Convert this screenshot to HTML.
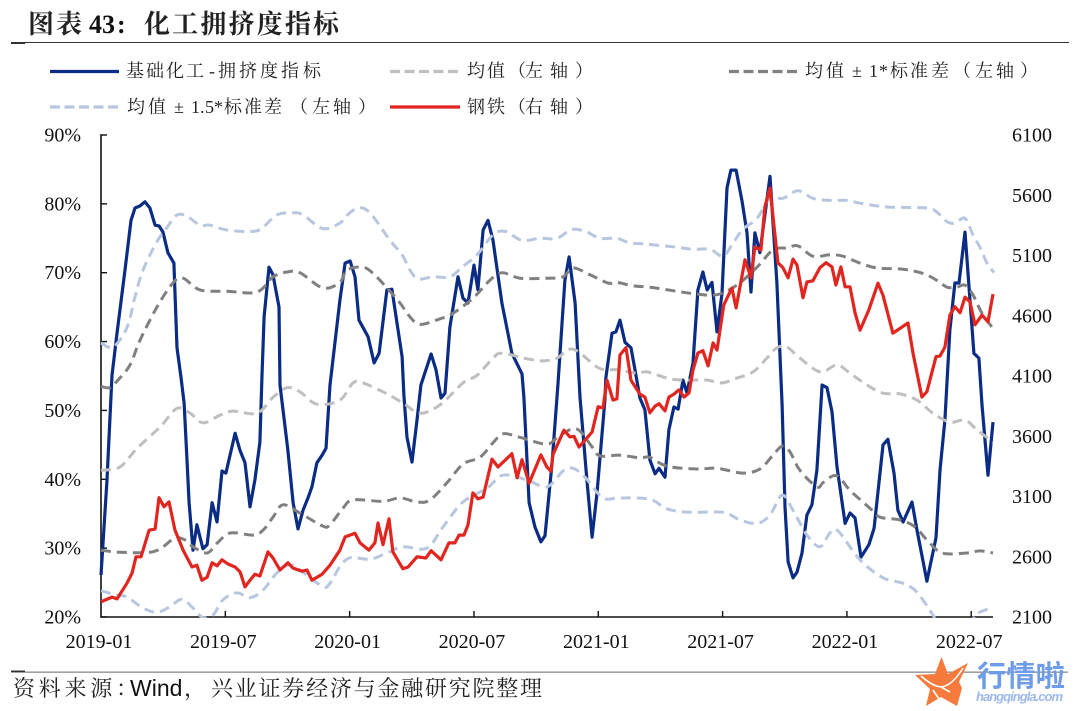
<!DOCTYPE html>
<html lang="zh">
<head>
<meta charset="utf-8">
<title>化工拥挤度指标</title>
<style>
html,body{margin:0;padding:0;background:#fff}
#stage{display:block;width:1080px;height:711px}
.cn{font-family:"Liberation Serif","Noto Serif CJK SC",serif;fill:#222}
.tick{font-family:"Liberation Serif",serif;font-size:20px;fill:#111}
</style>
</head>
<body>
<svg id="stage" xmlns="http://www.w3.org/2000/svg" width="1080" height="711" viewBox="0 0 1080 711">
  <defs><clipPath id="plot-clip"><rect x="96" y="120" width="902" height="498"/></clipPath></defs>

  <g>
    <text class="cn" x="28" y="33" font-size="26" font-weight="700" fill="#111" textLength="54" lengthAdjust="spacing">图表</text>
    <text x="89" y="33" font-family="Liberation Serif,serif" font-size="26" font-weight="700" fill="#111">43</text>
    <text x="117" y="33" font-family="Liberation Serif,serif" font-size="26" font-weight="700" fill="#111">:</text>
    <text class="cn" x="144" y="33" font-size="26" font-weight="700" fill="#111" textLength="195" lengthAdjust="spacing">化工拥挤度指标</text>
  </g>
  <rect x="11" y="42" width="1058" height="1" fill="#333"/>
  <rect x="11" y="42" width="14" height="2" fill="#333"/>

  <g>
    <g>
      <line x1="50" y1="71.5" x2="119" y2="71.5" stroke="#0b2c84" stroke-width="3.2"/>
      <text class="cn" x="126 146 166 186 209 218 239 260 281 303" y="77" font-size="18">基础化工-拥挤度指标</text>
    </g>
    <g>
      <line x1="390" y1="71.5" x2="460" y2="71.5" stroke="#bfbfbf" stroke-width="3.2" stroke-dasharray="10 4.5"/>
      <text class="cn" x="467 487 508 525 550 575" y="77" font-size="18">均值&#xFF08;左轴&#xFF09;</text>
    </g>
    <g>
      <line x1="729" y1="71.5" x2="799" y2="71.5" stroke="#808080" stroke-width="3.2" stroke-dasharray="10 4.5"/>
      <text class="cn" x="805 826 846 852 862 869 879 890 910 931 953 975 996 1020" y="77" font-size="18">均值 ± 1*标准差&#xFF08;左轴&#xFF09;</text>
    </g>
    <g>
      <line x1="50" y1="107" x2="119" y2="107" stroke="#b8c7e0" stroke-width="3.2" stroke-dasharray="10 4.5"/>
      <text class="cn" x="127 148 168 174 184 191 200 205 214 224 244 264 290 312 333 358" y="113" font-size="18">均值 ± 1.5*标准差&#xFF08;左轴&#xFF09;</text>
    </g>
    <g>
      <line x1="390" y1="107" x2="460" y2="107" stroke="#e1251f" stroke-width="3.2"/>
      <text class="cn" x="467 487 508 525 550 575" y="113" font-size="18">钢铁&#xFF08;右轴&#xFF09;</text>
    </g>
  </g>

  <g id="axes"></g>
  <g id="series" clip-path="url(#plot-clip)"></g>

  <rect x="11" y="671.5" width="1057" height="1.3" fill="#8a8a8a"/>
  <rect x="11" y="670.5" width="14" height="1.5" fill="#333"/>
  <g>
    <text class="cn" x="13" y="696" font-size="22" textLength="125" lengthAdjust="spacing">资料来源&#xFF1A;</text>
    <text x="130" y="696" font-family="Liberation Sans,sans-serif" font-size="23" fill="#111">Wind</text>
    <text class="cn" x="184" y="696" font-size="22">&#xFF0C;</text>
    <text class="cn" x="211" y="696" font-size="22" textLength="331" lengthAdjust="spacing">兴业证券经济与金融研究院整理</text>
  </g>

  <g>
    <polygon points="941.5,657 948,674 968,663 959,682 962,688 957,706 941,697 926,706 930,689 915,675 935,674" fill="#f57a3c"/>
    <path d="M921 676 Q932 686 941 687 Q952 686 963 668 M933 690 L941 702 M941 687 L950 692" fill="none" stroke="#fff" stroke-width="1.6"/>
    <text x="977" y="686" font-family="Liberation Sans,'Noto Sans CJK SC',sans-serif" font-size="29" font-weight="700" fill="#6f9ce8" textLength="88" lengthAdjust="spacingAndGlyphs">行情啦</text>
    <text x="976" y="701" font-family="Liberation Sans,sans-serif" font-size="13" font-weight="700" font-style="italic" fill="#9db9ea" textLength="87" lengthAdjust="spacing">hangqingla.com</text>
  </g>
</svg>

<script>
const xTickMonths = [0, 6, 12, 18, 24, 30, 36, 42];
const xTickLabels = ['2019-01', '2019-07', '2020-01', '2020-07', '2021-01', '2021-07', '2022-01', '2022-07'];
const leftTicks = [20, 30, 40, 50, 60, 70, 80, 90];
const rightTicks = [2100, 2600, 3100, 3600, 4100, 4600, 5100, 5600, 6100];

const crowdingMonths = [0,.29,.53,.77,1.16,1.45,1.64,1.88,2.12,2.36,2.61,2.80,2.99,3.23,3.52,3.67,3.86,4.01,4.15,4.25,4.44,4.63,4.92,5.12,5.36,5.60,5.84,6.03,6.47,6.71,6.95,7.19,7.43,7.67,7.77,7.87,8.11,8.30,8.59,8.64,9.02,9.27,9.51,9.75,9.99,10.18,10.42,10.67,10.86,11.05,11.53,11.78,12.02,12.26,12.45,12.89,13.18,13.42,13.80,14.04,14.53,14.62,14.77,15.01,15.25,15.44,15.93,16.17,16.41,16.60,16.84,17.23,17.47,17.71,18.00,18.19,18.44,18.68,18.92,19.35,19.83,20.32,20.41,20.66,20.94,21.23,21.43,21.77,22.05,22.39,22.59,22.88,23.12,23.45,23.70,23.94,24.32,24.37,24.66,24.85,25.05,25.29,25.58,25.77,26.01,26.25,26.49,26.74,26.93,27.22,27.41,27.65,27.85,28.09,28.28,28.57,28.81,29.05,29.25,29.49,29.73,29.97,30.21,30.40,30.65,30.93,31.18,31.37,31.56,31.80,32.29,32.62,32.87,33.01,33.16,33.40,33.59,33.83,34.07,34.31,34.55,34.80,35.04,35.28,35.52,35.91,36.15,36.39,36.68,37.06,37.31,37.74,37.98,38.27,38.46,38.71,39.14,39.38,39.86,40.30,40.49,40.73,40.97,41.21,41.41,41.70,41.94,42.13,42.37,42.52,42.81,43.05];
const crowdingValues = [26.1,39.9,55.1,61.2,70.4,77.6,79.4,79.7,80.3,79.4,76.9,76.8,75.9,72.9,71.4,59.1,54.8,51.1,42.8,36.6,29.7,33.4,29.9,30.5,36.6,33.8,41.2,40.9,46.7,44.2,42.4,36.0,39.9,45.4,55.1,63.6,70.8,69.7,65.0,53.7,44.2,36.6,32.8,35.5,37.3,38.9,42.4,43.5,44.5,53.7,66.0,71.4,71.7,69.4,63.1,60.7,56.9,58.3,67.5,67.6,57.8,52.2,46.1,42.5,48.6,53.7,58.2,55.9,51.8,52.5,62.1,69.4,66.3,65.6,71.1,67.5,76.2,77.6,74.7,65.6,58.3,55.3,51.9,36.6,33.1,30.9,31.8,42.4,53.7,68.9,72.3,65.6,51.9,39.9,31.6,38.0,51.5,54.8,61.2,61.4,63.1,59.9,59.1,55.9,51.8,50.1,42.8,40.8,41.6,40.3,47.2,50.5,50.2,54.4,52.5,56.9,67.5,70.1,67.5,68.6,61.4,67.0,82.3,84.9,84.9,80.5,75.8,67.2,75.8,72.9,84.0,68.5,50.8,36.0,28.0,25.7,26.5,29.3,34.8,36.3,41.3,53.7,53.3,49.8,41.8,33.6,35.1,34.4,28.7,30.5,32.9,45.0,45.8,40.9,35.5,33.8,36.7,32.6,25.2,31.5,41.3,48.6,61.7,68.5,68.5,75.9,66.0,58.3,57.6,50.8,40.6,48.3];

const steelMonths = [0,.19,.53,.77,1.25,1.50,1.69,1.93,2.32,2.61,2.80,3.04,3.28,3.57,3.96,4.39,4.63,4.87,5.12,5.36,5.60,5.84,6.13,6.47,6.71,6.95,7.19,7.43,7.67,8.06,8.30,8.64,9.02,9.27,9.70,9.94,10.18,10.67,11.05,11.53,11.78,12.26,12.50,12.93,13.22,13.37,13.61,13.90,14.09,14.57,14.82,15.25,15.68,15.93,16.41,16.79,17.08,17.28,17.52,17.71,17.95,18.19,18.44,18.87,19.16,19.83,20.08,20.32,20.66,21.23,21.52,21.72,21.81,22.34,22.63,22.83,23.07,23.70,23.99,24.23,24.42,24.71,24.90,25.05,25.34,25.58,26.01,26.25,26.49,26.74,26.93,27.22,27.41,27.65,27.89,28.14,28.38,28.57,28.81,29.05,29.30,29.54,29.73,30.06,30.45,30.65,31.08,31.37,31.56,31.85,32.04,32.29,32.67,32.91,33.16,33.40,33.59,33.88,34.07,34.36,34.70,34.99,35.28,35.47,35.71,35.91,36.15,36.39,36.63,37.06,37.50,37.74,38.22,38.95,39.19,39.62,39.86,40.30,40.49,40.73,40.97,41.21,41.46,41.70,41.94,42.18,42.52,42.81,43.05];
const steelValues = [2225,2240,2265,2250,2380,2465,2600,2600,2820,2830,3090,3015,3055,2820,2655,2515,2530,2405,2430,2550,2525,2575,2540,2515,2475,2350,2405,2455,2440,2640,2590,2490,2550,2505,2480,2490,2405,2455,2530,2655,2765,2795,2715,2655,2715,2880,2700,2915,2640,2500,2515,2600,2590,2650,2575,2715,2715,2780,2780,2865,3130,3080,3095,3410,3345,3455,3255,3405,3210,3445,3345,3310,3445,3650,3595,3600,3510,3635,3845,3835,4065,3900,3910,4275,4335,4065,3950,3925,3795,3850,3870,3810,3925,3950,3985,3925,3960,4150,4290,4310,4185,4375,4315,4690,4830,4665,5065,4915,5170,5145,5505,5660,5040,5000,4915,5070,5020,4750,4880,4890,5000,5040,5005,4855,5005,4840,4840,4625,4480,4650,4870,4770,4455,4540,4290,3925,3970,4260,4265,4340,4605,4675,4625,4755,4715,4525,4605,4550,4780];

const meanMonths = [0,.92,1.74,2.85,3.67,4.30,4.92,5.74,6.37,7.53,8.30,8.98,9.60,10.42,11.53,12.16,12.64,13.61,14.57,15.39,16.36,17.47,18.15,18.92,19.35,20.56,21.33,22.01,22.78,23.94,24.47,24.90,25.87,26.35,27.46,28.28,29.25,29.97,30.69,31.47,32.14,32.62,33.11,33.73,34.70,35.52,36.15,36.97,37.74,38.56,39.38,40.15,40.97,41.70,42.27,43.05];
const meanValues = [41.3,41.8,44.5,47.6,50.3,49.6,48.2,49.3,49.9,49.6,51.9,53.3,52.7,50.9,51.5,54.0,54.0,52.7,51.1,49.6,50.8,54.0,55.1,57.6,58.3,57.5,57.2,57.6,58.9,56.3,55.9,55.9,55.4,55.6,54.6,54.4,54.4,54.0,54.7,55.6,57.6,59.1,59.2,57.6,55.6,56.6,55.4,53.7,52.5,52.4,51.5,49.6,48.3,48.6,47.2,45.4];

const plus1Months = [0,.43,.82,1.40,1.88,2.70,3.47,3.96,4.78,6.08,7.53,8.30,8.98,9.60,10.71,11.53,11.87,12.64,13.13,13.80,14.43,14.91,15.39,16.36,16.99,17.95,18.77,19.35,20.22,21.52,22.30,22.78,23.60,24.47,24.90,25.67,26.49,27.80,28.76,29.73,30.69,31.66,32.43,33.11,33.64,34.36,35.18,35.81,36.63,37.45,38.71,39.67,40.34,40.83,41.31,41.70,42.08,42.52,43.00];
const plus1Values = [53.5,53.3,54.4,56.6,60.2,65.0,68.5,69.2,67.5,67.3,67.2,69.4,70.1,70.0,67.8,68.6,70.4,70.8,69.9,67.8,65.6,63.6,62.5,63.3,64.1,66.3,68.9,70.0,69.2,69.2,69.4,70.7,69.7,68.5,68.6,68.1,67.9,67.3,66.9,66.8,68.2,70.8,73.3,73.6,73.9,72.4,72.6,72.4,71.4,70.7,70.5,69.9,68.9,67.9,67.9,68.2,66.8,64.1,62.1];

const minus1Months = [0,.92,2.36,2.99,3.57,4.05,4.44,5.12,5.60,6.23,7.34,7.82,8.30,8.78,9.60,10.71,11.05,11.68,12.16,13.61,14.43,15.25,15.88,16.70,17.47,18.29,18.92,19.40,20.22,21.52,22.15,22.97,23.70,24.08,25.05,26.01,26.49,27.32,28.76,29.73,30.98,31.80,32.43,32.87,33.25,33.73,34.55,34.84,35.33,35.66,36.15,37.11,37.60,38.56,39.28,39.86,40.59,41.79,42.42,43.05];
const minus1Values = [29.7,29.4,29.4,30.2,31.5,31.2,30.2,29.3,30.7,32.2,31.9,32.6,34.5,36.3,35.1,33.2,33.4,35.8,37.0,36.8,37.3,36.7,37.0,39.5,42.2,43.2,45.3,46.6,46.1,45.1,46.4,47.3,44.7,43.4,43.5,43.1,43.2,41.9,41.5,41.6,40.9,41.5,43.5,44.8,44.0,41.3,38.9,39.5,40.5,40.2,38.4,35.8,34.5,34.1,33.1,31.2,29.3,29.3,29.6,29.3];

const plus15Months = [0,.58,1.25,1.64,2.03,2.70,3.19,3.67,4.15,4.78,5.26,6.08,7.34,7.82,8.49,9.27,9.75,10.71,11.53,11.78,12.40,12.98,13.95,14.53,14.91,15.30,16.02,16.84,17.42,18.15,18.92,19.50,20.32,21.19,22.01,22.73,23.45,24.08,24.90,25.53,26.16,27.80,28.57,29.39,30.02,30.50,30.98,31.66,32.29,32.91,33.64,34.36,35.18,36.00,36.63,37.45,38.22,39.86,40.34,40.83,41.21,41.70,42.08,42.42,42.76,43.10];
const plus15Values = [59.8,59.2,62.0,66.5,70.4,74.5,76.6,78.4,78.2,76.9,76.9,76.2,76.0,76.6,78.4,78.7,78.4,76.4,77.2,78.1,79.4,78.7,74.7,72.6,70.4,69.1,69.4,69.4,70.8,72.6,75.5,76.0,74.7,75.0,75.0,76.3,75.9,75.0,75.0,74.3,74.2,73.7,73.4,73.4,72.4,74.3,76.3,77.9,80.8,80.8,81.9,80.8,80.5,80.5,80.1,79.7,79.5,79.4,78.8,77.4,77.2,77.9,75.5,73.7,71.4,70.0];

const minus15Months = [0,.77,1.25,2.03,2.70,3.33,3.91,4.44,4.92,5.41,5.89,6.56,7.19,7.82,8.49,9.12,9.75,10.71,11.05,11.53,12.02,12.98,13.80,14.57,15.73,16.51,17.47,18.63,19.40,20.56,21.52,22.30,22.78,23.36,24.23,25.05,26.49,27.32,28.43,30.02,30.84,31.66,32.29,32.87,33.40,34.07,34.70,35.18,35.57,36.63,37.74,38.71,39.38,40.15,40.34,41.21,42.03,42.18,42.66,43.05];
const minus15Values = [23.8,23.2,22.9,21.3,20.7,21.5,22.6,21.3,19.9,20.3,22.5,23.5,22.8,23.9,26.4,27.6,26.5,24.4,24.9,27.3,28.6,28.4,29.3,30.2,30.0,33.1,36.7,38.7,40.6,39.9,38.9,41.2,41.6,40.3,37.3,37.3,37.1,35.7,35.2,35.2,34.1,33.6,34.8,37.7,35.5,31.9,30.2,32.2,32.5,28.3,25.7,24.9,23.6,20.3,19.4,18.1,19.4,20.3,21.0,21.2];

const svgNS = 'http://www.w3.org/2000/svg';
const PLOT = { left: 101, bottom: 617, top: 135, end: 993, monthWidth: 20.72 };

function xScale(month) { return PLOT.left + month * PLOT.monthWidth; }
function yLeft(value) { return PLOT.bottom - (value - 20) / 70 * (PLOT.bottom - PLOT.top); }
function yRight(value) { return PLOT.bottom - (value - 2100) / 4000 * (PLOT.bottom - PLOT.top); }

function toPoints(months, values, yScale) {
  return months.map(function (m, i) { return [xScale(m), yScale(values[i])]; });
}
function straightPath(pts) {
  return pts.map(function (p, i) { return (i ? 'L' : 'M') + p[0].toFixed(1) + ' ' + p[1].toFixed(1); }).join('');
}
function smoothPath(pts) {
  let d = 'M' + pts[0][0].toFixed(1) + ' ' + pts[0][1].toFixed(1);
  for (let i = 0; i < pts.length - 1; i++) {
    const p0 = pts[Math.max(i - 1, 0)], p1 = pts[i], p2 = pts[i + 1], p3 = pts[Math.min(i + 2, pts.length - 1)];
    const c1x = p1[0] + (p2[0] - p0[0]) / 6, c1y = p1[1] + (p2[1] - p0[1]) / 6;
    const c2x = p2[0] - (p3[0] - p1[0]) / 6, c2y = p2[1] - (p3[1] - p1[1]) / 6;
    d += 'C' + c1x.toFixed(1) + ' ' + c1y.toFixed(1) + ' ' + c2x.toFixed(1) + ' ' + c2y.toFixed(1) + ' ' + p2[0].toFixed(1) + ' ' + p2[1].toFixed(1);
  }
  return d;
}

const axes = document.getElementById('axes');
const seriesGroup = document.getElementById('series');

function addAxisLine(x1, y1, x2, y2, width) {
  const l = document.createElementNS(svgNS, 'line');
  l.setAttribute('x1', x1);
  l.setAttribute('y1', y1);
  l.setAttribute('x2', x2);
  l.setAttribute('y2', y2);
  l.setAttribute('stroke', '#111');
  l.setAttribute('stroke-width', width);
  axes.appendChild(l);
  return l;
}
function addTickText(x, y, anchor, str) {
  const t = document.createElementNS(svgNS, 'text');
  t.setAttribute('x', x);
  t.setAttribute('y', y);
  t.setAttribute('text-anchor', anchor);
  t.setAttribute('class', 'tick');
  t.textContent = str;
  axes.appendChild(t);
  return t;
}

const leftAxis = addAxisLine(PLOT.left, PLOT.top - 0.7, PLOT.left, PLOT.bottom + 0.7, 1.6);


const bottomAxis = addAxisLine(PLOT.left, PLOT.bottom, PLOT.end, PLOT.bottom, 1.6);



leftTicks.forEach(function (v) {
  const y = yLeft(v);
  const tick = addAxisLine(PLOT.left, y, PLOT.left + 6, y, 1.4);
  
  
  const label = addTickText(81, y + 6.5, 'end', v + '%');
  
  
});
rightTicks.forEach(function (v) {
  const label = addTickText(1012, yRight(v) + 6.5, 'start', String(v));
  
  
});
xTickMonths.forEach(function (m, i) {
  const x = xScale(m);
  if (i > 0) {
    const tick = addAxisLine(x, PLOT.bottom - 6, x, PLOT.bottom, 1.4);
    
    
  }
  const label = addTickText(x - 2, 648, 'middle', xTickLabels[i]);
  
  
});

function addSeries(d, color, dashed) {
  const p = document.createElementNS(svgNS, 'path');
  p.setAttribute('d', d);
  p.setAttribute('fill', 'none');
  p.setAttribute('stroke', color);
  p.setAttribute('stroke-width', dashed ? 3 : 3.2);
  p.setAttribute('stroke-linejoin', 'round');
  if (dashed) p.setAttribute('stroke-dasharray', '10 6');
  seriesGroup.appendChild(p);
  return p;
}

const crowdingLine = addSeries(straightPath(toPoints(crowdingMonths, crowdingValues, yLeft)), '#0b2c84', false);



const meanLine = addSeries(smoothPath(toPoints(meanMonths, meanValues, yLeft)), '#bfbfbf', true);



const plus1Line = addSeries(smoothPath(toPoints(plus1Months, plus1Values, yLeft)), '#808080', true);



const minus1Line = addSeries(smoothPath(toPoints(minus1Months, minus1Values, yLeft)), '#808080', true);



const plus15Line = addSeries(smoothPath(toPoints(plus15Months, plus15Values, yLeft)), '#b8c7e0', true);



const minus15Line = addSeries(smoothPath(toPoints(minus15Months, minus15Values, yLeft)), '#b8c7e0', true);



const steelLine = addSeries(straightPath(toPoints(steelMonths, steelValues, yRight)), '#e1251f', false);


</script>
</body>
</html>
